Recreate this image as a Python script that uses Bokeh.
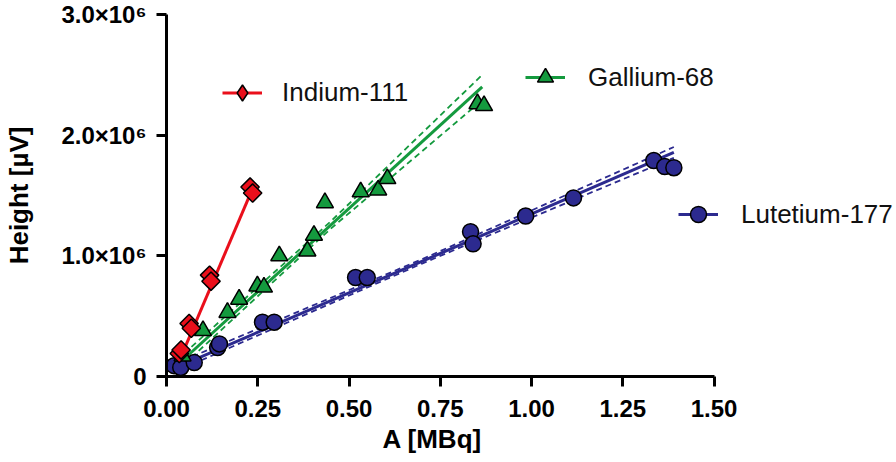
import numpy as np
from bokeh.plotting import figure
from bokeh.models import Range1d, FixedTicker, Legend, LegendItem, Title
from bokeh.embed import file_html
from bokeh.resources import INLINE

# ---------------- data ----------------
# Indium-111
in_x = [0.035, 0.040, 0.062, 0.068, 0.118, 0.122, 0.229, 0.236]
in_y = [0.19e6, 0.22e6, 0.44e6, 0.40e6, 0.84e6, 0.79e6, 1.57e6, 1.52e6]
in_fit_x = [0.035, 0.232]
in_fit_y = [0.13e6, 1.53e6]

# Gallium-68
ga_x = [0.044, 0.100, 0.167, 0.199, 0.249, 0.267, 0.309, 0.386, 0.404, 0.434,
        0.532, 0.580, 0.605, 0.852, 0.870]
ga_y = [0.17e6, 0.38e6, 0.53e6, 0.64e6, 0.75e6, 0.74e6, 1.00e6, 1.04e6, 1.17e6,
        1.44e6, 1.53e6, 1.545e6, 1.64e6, 2.26e6, 2.245e6]
ga_fit_x = [0.048, 0.865]
ga_fit_y = [0.145e6, 2.40e6]
ga_band_x = [0.048, 0.45, 0.865]
ga_upper = [0.19e6, 1.285e6, 2.50e6]
ga_lower = [0.10e6, 1.225e6, 2.29e6]

# Lutetium-177
lu_x = [0.021, 0.039, 0.076, 0.140, 0.145, 0.263, 0.295, 0.518, 0.550, 0.833,
        0.840, 0.984, 1.115, 1.335, 1.365, 1.390]
lu_y = [0.09e6, 0.075e6, 0.115e6, 0.24e6, 0.27e6, 0.45e6, 0.45e6, 0.82e6, 0.82e6,
        1.20e6, 1.10e6, 1.33e6, 1.48e6, 1.79e6, 1.74e6, 1.73e6]
lu_fit_x = [0.02, 1.39]
lu_fit_y = [0.065e6, 1.857e6]
lu_band_x = [0.02, 0.70, 1.39]
lu_upper = [0.10e6, 0.972e6, 1.902e6]
lu_lower = [0.035e6, 0.936e6, 1.812e6]

x_ticks = [0.0, 0.25, 0.5, 0.75, 1.0, 1.25, 1.5]
x_tick_labels = ["0.00", "0.25", "0.50", "0.75", "1.00", "1.25", "1.50"]
y_ticks = [0.0, 1.0e6, 2.0e6, 3.0e6]
y_tick_labels = ["0", "1.0\u00d710\u2076", "2.0\u00d710\u2076", "3.0\u00d710\u2076"]
x_title = "A [MBq]"
y_title = "Height [\u00b5V]"

RED = "#ea0f1b"
GREEN = "#149a3e"
BLUE = "#2c2a8f"
FONT = "Liberation Sans"

# ---------------- figure ----------------
p = figure(width=896, height=462, output_backend="svg", toolbar_location=None,
           x_range=Range1d(0, 2.0), y_range=Range1d(0, 3.0e6),
           min_border_left=166, min_border_top=14, min_border_bottom=86,
           min_border_right=0)
p.outline_line_color = None
p.grid.visible = False
p.background_fill_color = "white"
p.border_fill_color = "white"

for ax in (p.xaxis[0], p.yaxis[0]):
    ax.axis_line_width = 3
    ax.axis_line_color = "black"
    ax.major_tick_line_width = 3
    ax.major_tick_line_color = "black"
    ax.major_tick_out = 10
    ax.major_tick_in = 0
    ax.minor_tick_out = 0
    ax.minor_tick_in = 0
    ax.major_label_text_font = FONT
    ax.major_label_text_font_style = "bold"
    ax.major_label_text_font_size = "24px"
    ax.major_label_text_color = "black"
    ax.axis_label_text_font = FONT
    ax.axis_label_text_font_style = "bold"
    ax.axis_label_text_font_size = "26px"
    ax.axis_label_text_color = "black"

xa = p.xaxis[0]
xa.ticker = FixedTicker(ticks=x_ticks)
xa.major_label_overrides = dict(zip(x_ticks, x_tick_labels))
xa.bounds = (0, 1.5)
xa.major_label_standoff = 13

ya = p.yaxis[0]
ya.ticker = FixedTicker(ticks=y_ticks)
ya.major_label_overrides = dict(zip(y_ticks, y_tick_labels))
ya.bounds = (0, 3.0e6)
ya.axis_label = y_title
ya.major_label_standoff = 10
ya.axis_label_standoff = 24

# x-axis title, placed under the middle of the drawn axis (0 .. 1.5)
p.add_layout(Title(text=x_title, align="left", offset=216, standoff=5,
                   text_font=FONT, text_font_style="bold", text_font_size="26px",
                   text_color="black"), "below")

# ---------------- confidence bands ----------------
for bx, up, lo, col in ((ga_band_x, ga_upper, ga_lower, GREEN),
                        (lu_band_x, lu_upper, lu_lower, BLUE)):
    p.line(bx, up, line_color=col, line_width=1.8, line_dash="6 4")
    p.line(bx, lo, line_color=col, line_width=1.8, line_dash="6 4")

# ---------------- fit lines ----------------
lu_line = p.line(lu_fit_x, lu_fit_y, line_color=BLUE, line_width=3)
ga_line = p.line(ga_fit_x, ga_fit_y, line_color=GREEN, line_width=3)
in_line = p.line(in_fit_x, in_fit_y, line_color=RED, line_width=3)

# ---------------- points ----------------
lu_pts = p.scatter(lu_x, lu_y, marker="circle", size=16, fill_color=BLUE,
                   line_color="black", line_width=1.5)
ga_pts = p.scatter(ga_x, ga_y, marker="triangle", size=17, fill_color=GREEN,
                   line_color="black", line_width=1.5)
# diamond-shaped key for the legend (hidden under the rotated squares)
in_key = p.scatter(in_x, in_y, marker="diamond", size=13, fill_color=RED,
                   line_color="black", line_width=1.5)
in_pts = p.scatter(in_x, in_y, marker="square", angle=np.pi / 4, size=13,
                   fill_color=RED, line_color="black", line_width=1.5)

# ---------------- legends ----------------
def add_legend(label, rends, loc, standoff, gh):
    lg = Legend(items=[LegendItem(label=label, renderers=rends)], location=loc,
                orientation="vertical", padding=0, margin=0, spacing=0,
                glyph_width=40, glyph_height=gh, label_standoff=standoff,
                label_text_font=FONT, label_text_font_size="26px",
                label_text_color="#111111",
                border_line_alpha=0, background_fill_alpha=0)
    p.add_layout(lg, "center")

add_legend("Indium-111", [in_line, in_key], (56, 261), 20, 45)
add_legend("Gallium-68", [ga_line, ga_pts], (359, 279), 23, 40)
add_legend("Lutetium-177", [lu_line, lu_pts], (512, 142), 23, 40)

open("out.html", "w").write(file_html(p, INLINE))
